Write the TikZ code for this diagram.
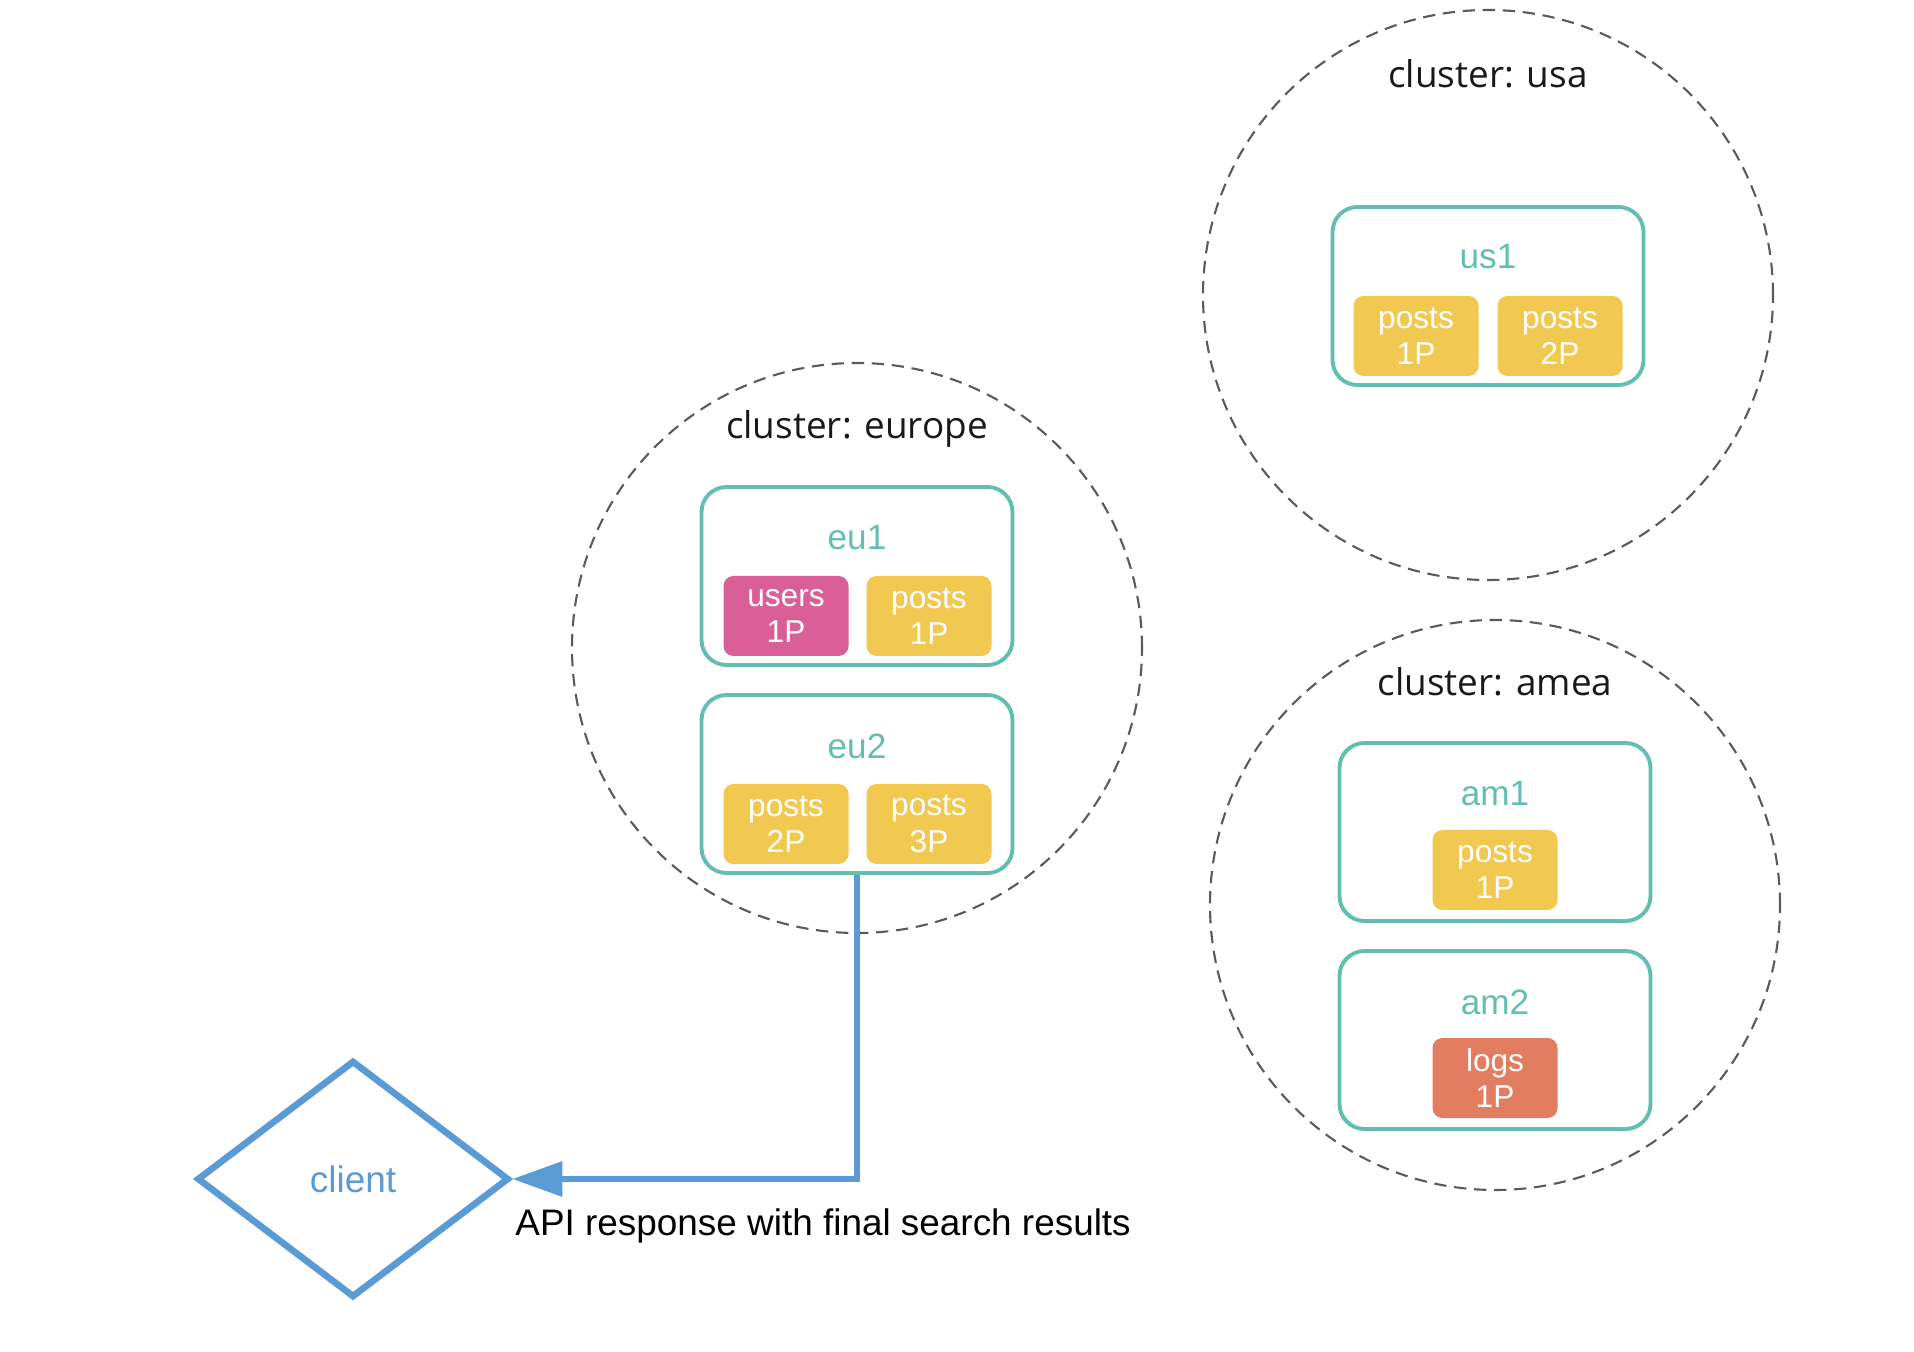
\documentclass[tikz,border=0pt]{standalone}
\usepackage{fontspec}
\setmainfont{Liberation Sans}
\newfontfamily\titlefont{Open Sans}
\usepackage{tikz}
\usetikzlibrary{shapes.geometric,arrows.meta}

\definecolor{hostcol}{RGB}{99,190,178}
\definecolor{postcol}{RGB}{241,201,80}
\definecolor{usercol}{RGB}{217,95,150}
\definecolor{logcol}{RGB}{226,125,95}
\definecolor{clientcol}{RGB}{91,155,213}
\definecolor{ringcol}{RGB}{90,90,90}

\tikzset{
  cluster/.style={circle, draw=ringcol, line width=0.6pt, dash pattern=on 3.5pt off 2.2pt, minimum size=5.7cm, inner sep=0pt},
  ctitle/.style={font=\titlefont\fontsize{10.5}{12}\selectfont, text=black!90},
  host/.style={draw=hostcol, line width=1.1pt, rounded corners=0.25cm, minimum width=3.11cm, minimum height=1.78cm, inner sep=0pt},
  hname/.style={font=\fontsize{10}{12}\selectfont, text=hostcol},
  shard/.style={rounded corners=0.1cm, minimum width=1.25cm, minimum height=0.8cm, inner sep=0pt, align=center, text=white, font=\fontsize{9}{10.3}\selectfont},
}

\begin{document}
\begin{tikzpicture}
  \useasboundingbox (0,0) rectangle (19.14,-13.52);
  % Clusters
  \node[cluster] (europe) at (8.57,-6.48) {};
  \node[cluster] (usa) at (14.88,-2.95) {};
  \node[cluster] (amea) at (14.95,-9.05) {};
  \node[ctitle] (europet) at (8.57,-4.29) {cluster: europe};
  \node[ctitle] (usat) at (14.88,-0.74) {cluster: usa};
  \node[ctitle] (ameat) at (14.95,-6.82) {cluster: amea};
  % Hosts
  \node[host] (eu1) at (8.57,-5.76) {};
  \node[host] (eu2) at (8.57,-7.84) {};
  \node[host] (us1) at (14.88,-2.96) {};
  \node[host] (am1) at (14.95,-8.32) {};
  \node[host] (am2) at (14.95,-10.40) {};
  \node[hname] (eu1n) at (8.57,-5.38) {eu1};
  \node[hname] (eu2n) at (8.57,-7.46) {eu2};
  \node[hname] (us1n) at (14.88,-2.57) {us1};
  \node[hname] (am1n) at (14.95,-7.94) {am1};
  \node[hname] (am2n) at (14.95,-10.02) {am2};
  % Shards
  \node[shard, fill=usercol] (eu1a) at (7.86,-6.16) {users\\1P};
  \node[shard, fill=postcol] (eu1b) at (9.29,-6.16) {posts\\1P};
  \node[shard, fill=postcol] (eu2a) at (7.86,-8.24) {posts\\2P};
  \node[shard, fill=postcol] (eu2b) at (9.29,-8.24) {posts\\3P};
  \node[shard, fill=postcol] (us1a) at (14.16,-3.36) {posts\\1P};
  \node[shard, fill=postcol] (us1b) at (15.60,-3.36) {posts\\2P};
  \node[shard, fill=postcol] (am1a) at (14.95,-8.70) {posts\\1P};
  \node[shard, fill=logcol] (am2a) at (14.95,-10.78) {logs\\1P};
  % Client
  \node[diamond, draw=clientcol, line width=1.9pt, minimum width=3.12cm, minimum height=2.37cm, inner sep=0pt, text=clientcol, font=\fontsize{10.5}{12}\selectfont] (client) at (3.53,-11.79) {client};
  \node[anchor=west, font=\fontsize{10.5}{12}\selectfont] (resp) at (5.03,-12.26) {API response with final search results};
  % Edges
  \draw[draw=clientcol, line width=1.8pt, -{Triangle[length=0.5cm,width=0.34cm]}] (eu2.south) |- (client.east);
\end{tikzpicture}
\end{document}
